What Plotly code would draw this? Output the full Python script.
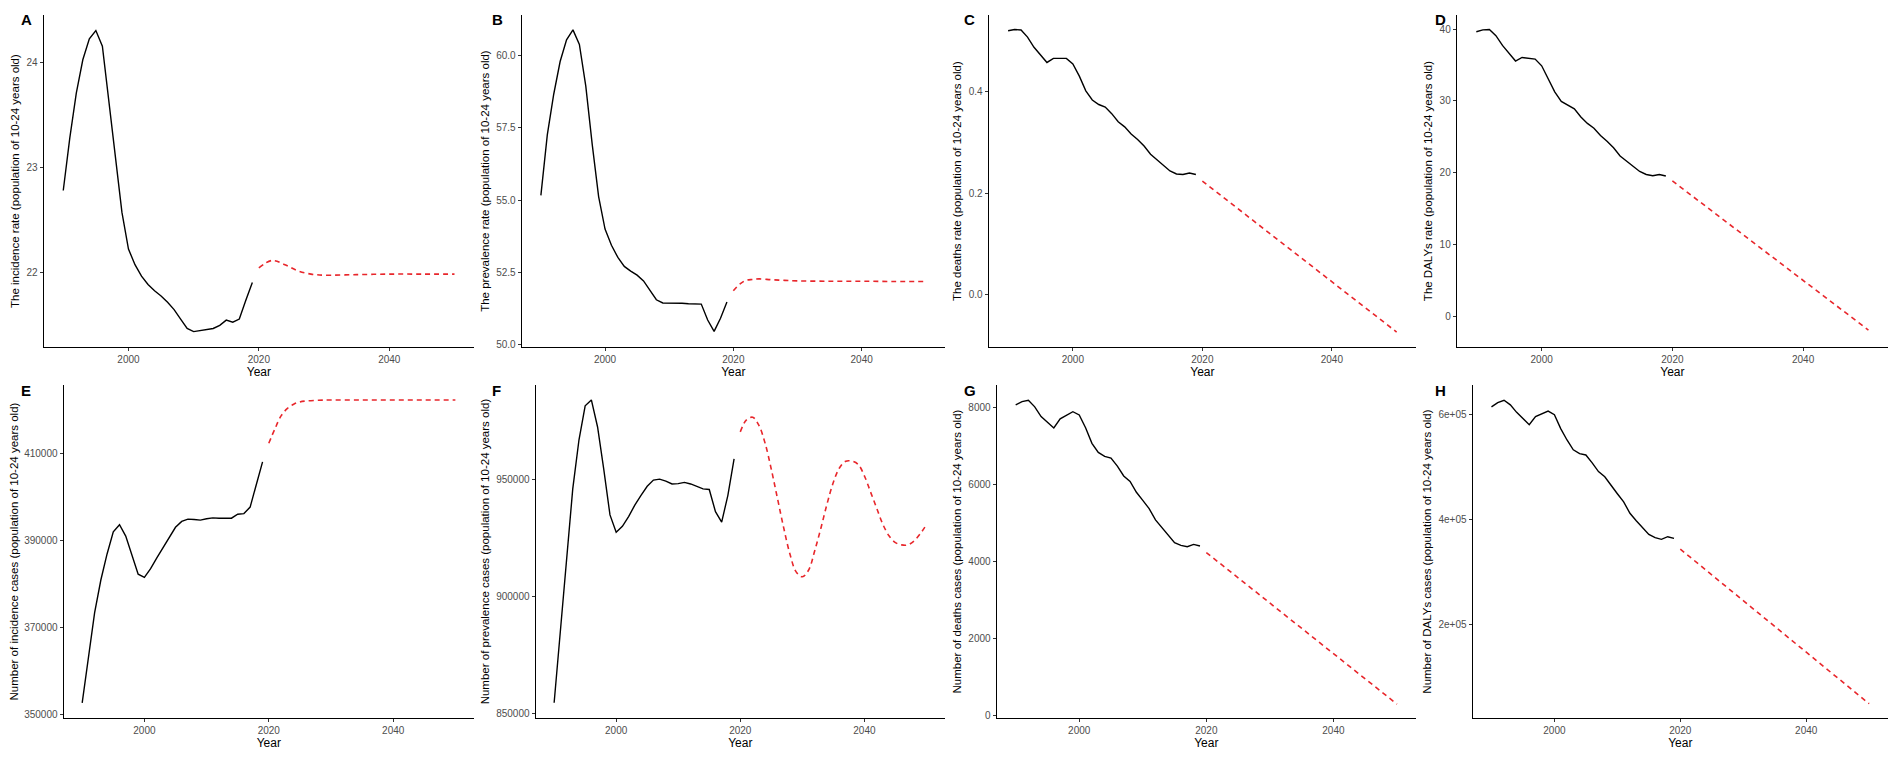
import plotly.graph_objects as go

years_obs = list(range(1990, 2020))

inc_rate = [22.78, 23.28, 23.71, 24.03, 24.23, 24.31, 24.16, 23.62, 23.06, 22.57, 22.22, 22.07, 21.96, 21.88, 21.82,
            21.77, 21.71, 21.64, 21.55, 21.46, 21.43, 21.44, 21.45, 21.46, 21.49, 21.54, 21.52, 21.55, 21.73, 21.90]
inc_rate_fc_x = [2020, 2022, 2024, 2026, 2028, 2030, 2035, 2040, 2045, 2050]
inc_rate_fc = [22.04, 22.11, 22.07, 22.01, 21.98, 21.97, 21.975, 21.98, 21.98, 21.98]

prev_rate = [55.16, 57.25, 58.65, 59.78, 60.53, 60.87, 60.37, 58.93, 56.92, 55.12, 54.00, 53.44, 53.02, 52.71, 52.55,
             52.41, 52.21, 51.87, 51.56, 51.45, 51.45, 51.45, 51.44, 51.42, 51.41, 51.41, 50.86, 50.47, 50.92, 51.48]
prev_rate_fc_x = [2020, 2021, 2022, 2023, 2024, 2026, 2028, 2030, 2035, 2040, 2045, 2050]
prev_rate_fc = [51.87, 52.10, 52.23, 52.26, 52.28, 52.25, 52.23, 52.21, 52.20, 52.20, 52.19, 52.19]

death_rate = [0.5205, 0.523, 0.522, 0.508, 0.488, 0.474, 0.458, 0.466, 0.466, 0.466, 0.455, 0.431, 0.402, 0.384, 0.375,
              0.370, 0.357, 0.341, 0.331, 0.317, 0.306, 0.293, 0.277, 0.266, 0.254, 0.244, 0.238, 0.237, 0.240, 0.237]
death_rate_fc_x = [2020, 2030, 2040, 2050]
death_rate_fc = [0.224, 0.125, 0.025, -0.074]

daly_rate = [39.64, 39.90, 39.95, 39.10, 37.74, 36.60, 35.57, 36.06, 35.93, 35.84, 34.90, 32.99, 31.27, 29.95, 29.37,
             28.91, 27.78, 26.88, 26.20, 25.20, 24.39, 23.48, 22.35, 21.67, 20.86, 20.18, 19.77, 19.59, 19.77, 19.55]
daly_rate_fc_x = [2020, 2030, 2040, 2050]
daly_rate_fc = [18.87, 11.95, 5.03, -1.90]

inc_num = [352760, 363730, 373430, 380900, 386870, 391940, 393580, 390970, 386490, 382240, 381490, 383500, 385970,
           388360, 390750, 392980, 394330, 394850, 394780, 394630, 394930, 395150, 395070, 395000, 395070, 395970,
           396120, 397610, 402540, 407990]
inc_num_fc_x = [2020, 2021, 2022, 2023, 2024, 2025, 2026, 2028, 2030, 2035, 2040, 2045, 2050]
inc_num_fc = [412240, 415600, 418580, 420220, 421190, 421720, 421940, 422090, 422160, 422160, 422160, 422150, 422150]

prev_num = [854580, 884720, 918050, 945830, 966670, 981250, 983750, 972220, 954170, 934720, 927360, 929860, 934030,
            938890, 943060, 946940, 949580, 950000, 949170, 947920, 948060, 948610, 947920, 946810, 945830, 945560,
            936110, 931670, 943060, 958610]
prev_num_fc_x = list(range(2020, 2051))
prev_num_fc = [970140, 975280, 976390, 972920, 965280, 954170, 941670, 929170, 918050, 910420, 908330, 911110, 919440,
               929170, 939580, 948610, 954860, 957640, 957640, 956250, 951390, 944440, 937500, 930560, 925690, 922920,
               921940, 921940, 923610, 926670, 930560]

death_num = [8076, 8161, 8195, 8025, 7771, 7627, 7475, 7712, 7797, 7898, 7814, 7483, 7076, 6839, 6737, 6695, 6483,
             6229, 6085, 5805, 5593, 5381, 5085, 4890, 4678, 4492, 4424, 4390, 4449, 4407]
death_num_fc_x = [2020, 2030, 2040, 2050]
death_num_fc = [4237, 2923, 1610, 296]

daly_num = [614900, 623000, 627300, 618600, 604300, 591900, 580700, 596300, 601200, 606800, 600000, 573300, 551600,
            532900, 525500, 523000, 508100, 491300, 481400, 464600, 449100, 433500, 411800, 397500, 383900, 371400,
            365200, 362100, 367100, 364000]
daly_num_fc_x = [2020, 2030, 2040, 2050]
daly_num_fc = [343500, 245200, 146900, 48500]

W, H = 1902, 759
panels = [
    ("A", "The incidence rate (population of 10-24 years old)", inc_rate, inc_rate_fc_x, inc_rate_fc,
     (36, 470), (7, 348), [21.28, 24.46], dict(tickvals=[22, 23, 24])),
    ("B", "The prevalence rate (population of 10-24 years old)", prev_rate, prev_rate_fc_x, prev_rate_fc,
     (518, 945), (7, 348), [49.92, 61.39], dict(tickvals=[50, 52.5, 55, 57.5, 60], tickformat=".1f")),
    ("C", "The deaths rate (population of 10-24 years old)", death_rate, death_rate_fc_x, death_rate_fc,
     (989, 1420), (7, 348), [-0.104, 0.552], dict(tickvals=[0, 0.2, 0.4], tickformat=".1f")),
    ("D", "The DALYs rate (population of 10-24 years old)", daly_rate, daly_rate_fc_x, daly_rate_fc,
     (1461, 1896), (7, 348), [-4.3, 42.0], dict(tickvals=[0, 10, 20, 30, 40])),
    ("E", "Number of incidence cases (population of 10-24 years old)", inc_num, inc_num_fc_x, inc_num_fc,
     (56, 470), (387, 728), [349328, 425522], dict(tickvals=[350000, 370000, 390000, 410000], tickformat="d")),
    ("F", "Number of prevalence cases (population of 10-24 years old)", prev_num, prev_num_fc_x, prev_num_fc,
     (532, 945), (387, 728), [848190, 990000], dict(tickvals=[850000, 900000, 950000], tickformat="d")),
    ("G", "Number of deaths cases (population of 10-24 years old)", death_num, death_num_fc_x, death_num_fc,
     (997, 1420), (387, 728), [-59, 8585], dict(tickvals=[0, 2000, 4000, 6000, 8000], tickformat="d")),
    ("H", "Number of DALYs cases (population of 10-24 years old)", daly_num, daly_num_fc_x, daly_num_fc,
     (1477, 1896), (387, 728), [21740, 655900],
     dict(tickvals=[200000, 400000, 600000], ticktext=["2e+05", "4e+05", "6e+05"])),
]
letter_x = [11, 486, 962, 1437, 11, 486, 962, 1437]
letter_y = [12, 12, 12, 12, 392, 392, 392, 392]

font_fam = "Liberation Sans, Arial"
fig = go.Figure()
annotations = []
for i, (letter, title, obs, fx, fy, xd, yd, yr, yt) in enumerate(panels):
    n = "" if i == 0 else str(i + 1)
    spline = letter in ("A", "B", "E", "F")
    fig.add_trace(go.Scatter(x=years_obs, y=obs, mode="lines", line=dict(color="black", width=1.4),
                             xaxis="x" + n, yaxis="y" + n, showlegend=False))
    fig.add_trace(go.Scatter(x=fx, y=fy, mode="lines",
                             line=dict(color="#e8262b", width=1.6, dash="5px,4px",
                                       shape="spline" if spline else "linear"),
                             xaxis="x" + n, yaxis="y" + n, showlegend=False))
    axstyle = dict(showline=True, linecolor="black", linewidth=1, ticks="outside", ticklen=3,
                   tickcolor="#333", showgrid=False, zeroline=False,
                   tickfont=dict(family=font_fam, size=10, color="#4d4d4d"))
    fig.update_layout(**{
        "xaxis" + n: dict(domain=[xd[0] / W, xd[1] / W], range=[1987, 2053], tickvals=[2000, 2020, 2040],
                          anchor="y" + n,
                          title=dict(text="Year", font=dict(family=font_fam, size=12, color="black"),
                                     standoff=2), **axstyle),
        "yaxis" + n: dict(domain=[1 - yd[1] / H, 1 - yd[0] / H], range=yr, anchor="x" + n,
                          title=dict(text=title, font=dict(family=font_fam, size=11.5, color="black"),
                                     standoff=4), **axstyle, **yt),
    })
    annotations.append(dict(text="<b>%s</b>" % letter, x=letter_x[i] / W, y=1 - letter_y[i] / H,
                            xref="paper", yref="paper", showarrow=False,
                            xanchor="left", yanchor="middle",
                            font=dict(family=font_fam, size=15, color="black")))
fig.update_layout(annotations=annotations, plot_bgcolor="white", paper_bgcolor="white",
                  margin=dict(l=0, r=0, t=0, b=0))
fig.write_html("out.html")
